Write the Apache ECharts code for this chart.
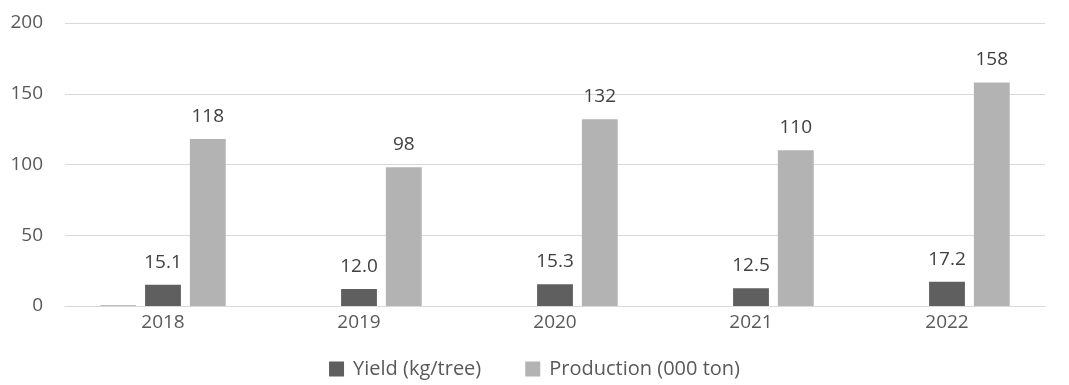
<!DOCTYPE html>
<html>
<head>
<meta charset="utf-8">
<script src="https://cdn.jsdelivr.net/npm/echarts@6/dist/echarts.min.js"></script>
<style>
html,body{margin:0;padding:0;background:#fff;}
#main{width:1069px;height:385px;}
</style>
</head>
<body>
<div id="main"></div>
<script>
var years=['2018','2019','2020','2021','2022'];
var extra=[0.4,0,0,0,0];//tiny unnamed bar in 2018
var yieldVals=[15.1,12.0,15.3,12.5,17.2];
var production=[118,98,132,110,158];
var yTicks=[0,50,100,150,200];

var font='"Open Sans", "Noto Sans", sans-serif';
var myChart=echarts.init(document.getElementById('main'));
var option={
	animation:false,
	textStyle:{fontFamily:font},
	grid:{left:65,right:24,top:23,bottom:79},
	legend:{
		data:['Yield (kg/tree)','Production (000 ton)'],
		bottom:1,
		left:'center',
		itemWidth:15,itemHeight:15,itemGap:44,
		icon:'rect',
		textStyle:{color:'#595959',fontSize:20,fontFamily:font,padding:[0,0,0,4]}
	},
	xAxis:{
		type:'category',
		data:years,
		axisLine:{lineStyle:{color:'#d9d9d9',width:1}},
		axisTick:{show:false},
		axisLabel:{color:'#595959',fontSize:19,margin:7,fontFamily:font}
	},
	yAxis:{
		type:'value',
		min:yTicks[0],max:yTicks[yTicks.length-1],interval:50,
		axisLine:{show:false},
		axisTick:{show:false},
		splitLine:{lineStyle:{color:'#d9d9d9',width:1}},
		axisLabel:{color:'#595959',fontSize:19,margin:22,fontFamily:font}
	},
	series:[
		{
			name:'extra',type:'bar',data:extra,
			itemStyle:{color:'#7f7f7f'},
			barGap:'25%',barCategoryGap:'36%'
		},
		{
			name:'Yield (kg/tree)',type:'bar',data:yieldVals,
			itemStyle:{color:'#5f5f5f'},
			barGap:'25%',barCategoryGap:'36%',
			label:{show:true,position:'top',distance:13,color:'#404040',fontSize:19,fontFamily:font,
				formatter:function(p){return p.value.toFixed(1);}}
		},
		{
			name:'Production (000 ton)',type:'bar',data:production,
			itemStyle:{color:'#b3b3b3'},
			barGap:'25%',barCategoryGap:'36%',
			label:{show:true,position:'top',distance:13,color:'#404040',fontSize:19,fontFamily:font}
		}
	]
};
myChart.setOption(option);
</script>
</body>
</html>
